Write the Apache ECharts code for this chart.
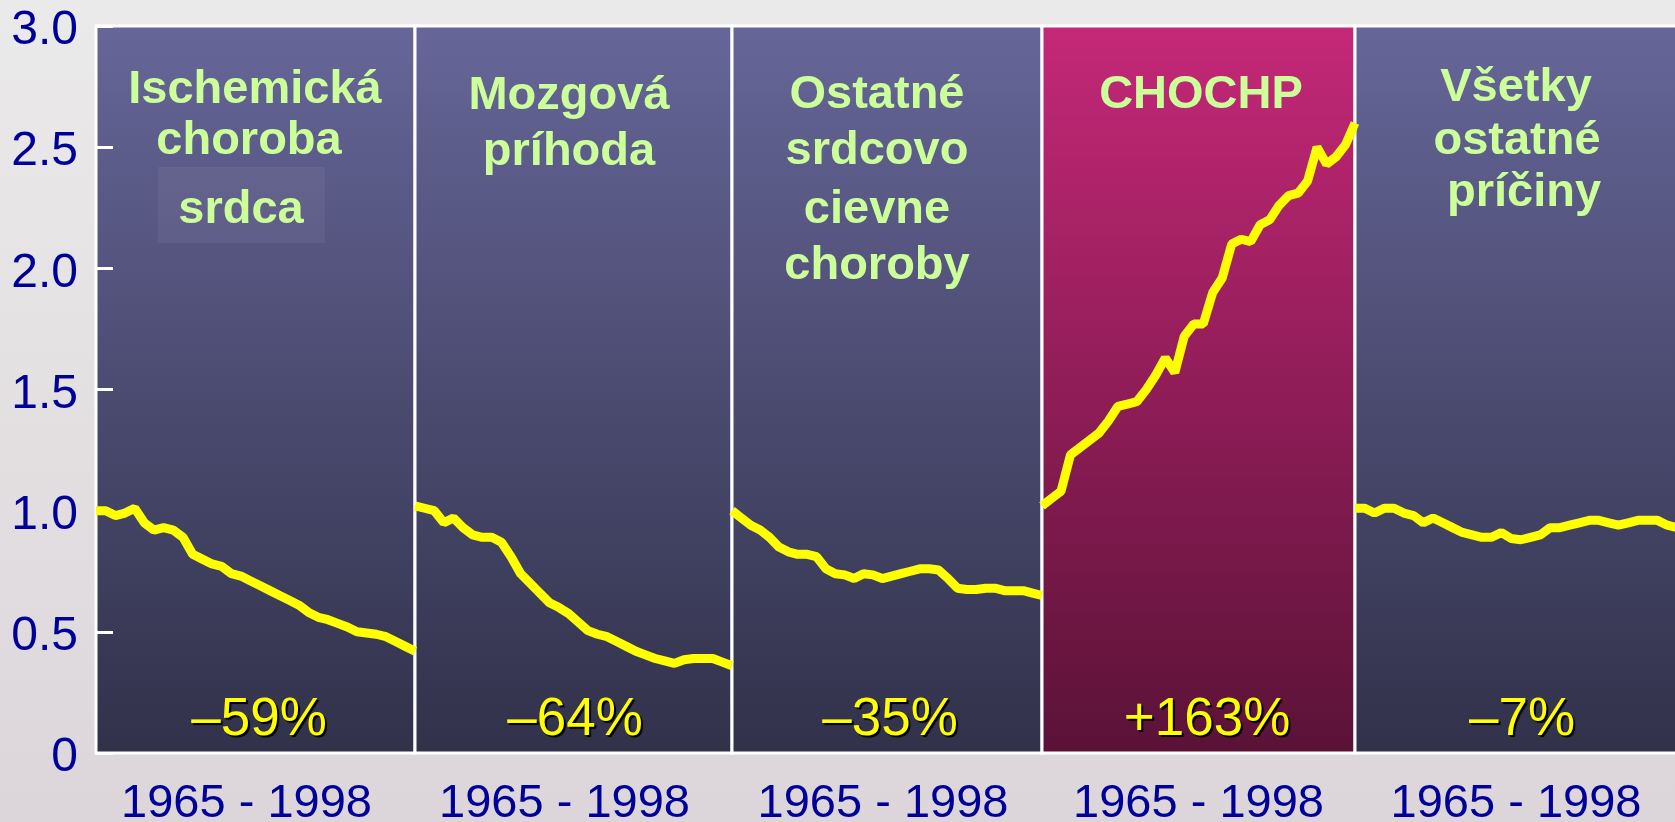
<!DOCTYPE html>
<html>
<head>
<meta charset="utf-8">
<title>Úmrtnosť 1965 - 1998</title>
<script src="https://cdn.jsdelivr.net/npm/echarts@6/dist/echarts.min.js"></script>
<style>
  html, body { margin: 0; padding: 0; background: #e4e1e3; }
  #chart { width: 1675px; height: 822px; }
</style>
</head>
<body>
<div id="chart"></div>
<script>
// relative change of mortality vs 1965 (1965 = 1.0)
const years = [1965, 1966, 1967, 1968, 1969, 1970, 1971, 1972, 1973, 1974,
  1975, 1976, 1977, 1978, 1979, 1980, 1981, 1982, 1983, 1984,
  1985, 1986, 1987, 1988, 1989, 1990, 1991, 1992, 1993, 1994,
  1995, 1996, 1997, 1998]

const ischemicka = [1.00, 1.00, 0.98, 0.99, 1.01, 0.95, 0.92, 0.93, 0.92, 0.89,
  0.82, 0.80, 0.78, 0.77, 0.74, 0.73, 0.71, 0.69, 0.67, 0.65,
  0.63, 0.61, 0.58, 0.56, 0.55, 0.535, 0.52, 0.50, 0.495, 0.49,
  0.48, 0.46, 0.44, 0.42]

const mozgova = [1.02, 1.01, 1.00, 0.95, 0.97, 0.93, 0.90, 0.89, 0.89, 0.87,
  0.81, 0.74, 0.70, 0.66, 0.62, 0.60, 0.575, 0.54, 0.505, 0.49,
  0.48, 0.46, 0.44, 0.42, 0.405, 0.39, 0.38, 0.37, 0.385, 0.39,
  0.39, 0.39, 0.375, 0.36]

const ostatneSrdcovo = [1.00, 0.97, 0.94, 0.92, 0.89, 0.85, 0.83, 0.82, 0.82, 0.81,
  0.76, 0.74, 0.735, 0.72, 0.74, 0.735, 0.72, 0.73, 0.74, 0.75,
  0.76, 0.76, 0.755, 0.72, 0.68, 0.675, 0.675, 0.68, 0.68, 0.67,
  0.67, 0.67, 0.66, 0.65]

const chochp = [1.02, 1.05, 1.08, 1.23, 1.26, 1.29, 1.32, 1.37, 1.43, 1.44,
  1.45, 1.50, 1.56, 1.63, 1.57, 1.72, 1.77, 1.77, 1.90, 1.96,
  2.10, 2.12, 2.11, 2.18, 2.20, 2.26, 2.30, 2.31, 2.36, 2.50,
  2.43, 2.46, 2.51, 2.60]

const vsetkyOstatne = [1.01, 1.01, 0.99, 1.01, 1.01, 0.99, 0.98, 0.95, 0.97, 0.95,
  0.93, 0.91, 0.90, 0.89, 0.89, 0.91, 0.885, 0.88, 0.89, 0.90,
  0.93, 0.93, 0.94, 0.95, 0.96, 0.96, 0.95, 0.94, 0.95, 0.96,
  0.96, 0.96, 0.94, 0.93]

const panelTitles = [
  ['Ischemická', 'choroba', 'srdca'],
  ['Mozgová', 'príhoda'],
  ['Ostatné', 'srdcovo', 'cievne', 'choroby'],
  ['CHOCHP'],
  ['Všetky', 'ostatné', 'príčiny']
]
const changeLabels = ['–59%', '–64%', '–35%', '+163%', '–7%']
const periodLabel = '1965 - 1998'
const yTicks = [0, 0.5, 1, 1.5, 2, 2.5, 3]

const seriesData = [ischemicka, mozgova, ostatneSrdcovo, chochp, vsetkyOstatne]

// layout
const panelLeft = [96, 415, 732, 1042, 1355]
const panelWidth = [319, 317, 310, 313, 322]
const plotTop = 26
const plotHeight = 727
const titleX = [[255, 249, 241], [569, 569], [877, 877, 877, 877], [1201], [1516, 1517, 1524]]
const titleBase = [[102, 153, 222], [108, 164], [107, 163, 222, 278], [107], [100, 153, 205]]
const changeX = [259, 575, 890, 1207, 1522]
const periodShift = [18, 18, 8, 0, 0] // the period labels sit a little left of centre

const fontFamily = '"Liberation Sans", Arial, sans-serif'
const highlighted = 3 // CHOCHP

function panelFill(i) {
  if (i === highlighted) {
    return new echarts.graphic.LinearGradient(0, 0, 0, 1, [
      { offset: 0, color: '#c52878' },
      { offset: 1, color: '#5a1237' }
    ])
  }
  return new echarts.graphic.LinearGradient(0, 0, 0, 1, [
    { offset: 0, color: '#666699' },
    { offset: 1, color: '#31314a' }
  ])
}

const chart = echarts.init(document.getElementById('chart'))

const grids = []
const xAxes = []
const yAxes = []
const series = []
const graphics = []

seriesData.forEach((data, i) => {
  grids.push({
    left: panelLeft[i],
    top: plotTop,
    width: panelWidth[i],
    height: plotHeight,
    show: true,
    backgroundColor: panelFill(i),
    borderColor: '#ffffff',
    borderWidth: 3,
    outerBoundsMode: 'none'
  })
  xAxes.push({
    gridIndex: i,
    type: 'category',
    data: years,
    boundaryGap: false,
    axisLine: { show: false },
    axisTick: { show: false },
    axisLabel: { show: false },
    splitLine: { show: false },
    name: periodLabel,
    nameLocation: 'middle',
    nameGap: 28,
    nameTextStyle: {
      color: '#000099',
      fontSize: 47,
      fontFamily: fontFamily,
      padding: [0, periodShift[i], 0, 0]
    }
  })
  yAxes.push({
    gridIndex: i,
    type: 'value',
    min: 0,
    max: 3,
    interval: 0.5,
    show: i === 0,
    axisLine: { show: false },
    axisTick: { show: true, inside: true, length: 17, lineStyle: { color: '#ffffff', width: 3 } },
    splitLine: { show: false },
    axisLabel: {
      color: '#000099',
      fontSize: 48,
      fontFamily: fontFamily,
      margin: 18,
      verticalAlign: 'top',
      lineHeight: 10,
      formatter: v => (yTicks.indexOf(v) >= 0 ? (v === 0 ? '0' : v.toFixed(1)) : '')
    }
  })
  series.push({
    type: 'line',
    xAxisIndex: i,
    yAxisIndex: i,
    data: data,
    symbol: 'none',
    clip: false,
    z: 5,
    lineStyle: { color: '#ffff00', width: 9 }
  })

  panelTitles[i].forEach((line, k) => {
    graphics.push({
      type: 'text',
      x: titleX[i][k],
      y: titleBase[i][k] - 12,
      z: 10,
      style: {
        text: line,
        fill: '#ccff99',
        fontSize: 47,
        fontWeight: 'bold',
        fontFamily: fontFamily,
        align: 'center',
        verticalAlign: 'middle'
      }
    })
  })

  graphics.push({
    type: 'text',
    x: changeX[i],
    y: 720,
    z: 10,
    style: {
      text: changeLabels[i],
      fill: '#ffff00',
      fontSize: 53,
      fontFamily: fontFamily,
      align: 'center',
      verticalAlign: 'middle',
      textShadowColor: '#000000',
      textShadowBlur: 1,
      textShadowOffsetX: 2,
      textShadowOffsetY: 2
    }
  })
})

// lighter box behind "srdca"
graphics.push({
  type: 'rect',
  z: 1,
  shape: { x: 158, y: 167, width: 167, height: 76 },
  style: { fill: 'rgba(255,255,255,0.05)' }
})

chart.setOption({
  backgroundColor: new echarts.graphic.LinearGradient(0, 0, 0, 1, [
    { offset: 0, color: '#ebeaea' },
    { offset: 1, color: '#dcd6da' }
  ]),
  animation: false,
  grid: grids,
  xAxis: xAxes,
  yAxis: yAxes,
  series: series,
  graphic: graphics
})
</script>
</body>
</html>
